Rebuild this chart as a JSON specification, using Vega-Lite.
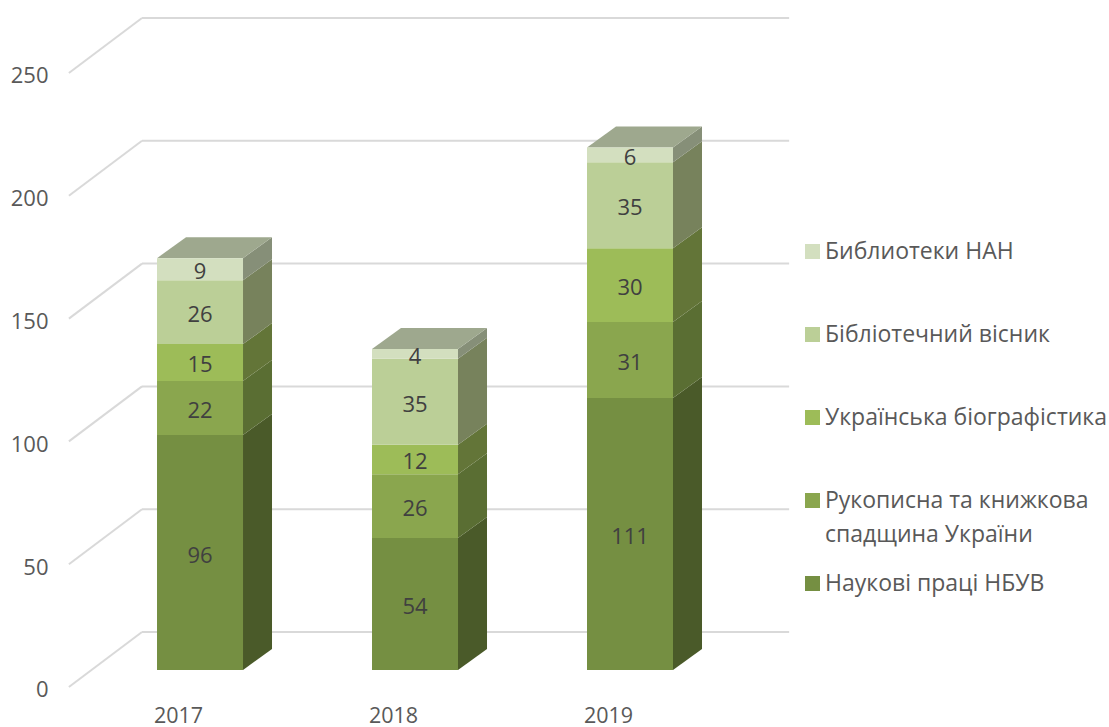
{
"$schema":"https://vega.github.io/schema/vega-lite/v6.json",
"width":1109,"height":727,"padding":0,"autosize":"none","background":"white",
"config":{"view":{"stroke":null},"font":"Open Sans",
"axisX":{"format":"d","grid":false,"domain":false,"ticks":false,"orient":"bottom","offset":-2,"labelPadding":-20,"labelOffset":-7,"labelFontSize":21.5,"labelColor":"#595959","labelFont":"Open Sans"},
"axisY":{"grid":false,"domain":false,"ticks":false,"orient":"left","offset":-58,"labelPadding":10,"labelOffset":3,"labelFontSize":22,"labelColor":"#595959","labelFont":"Open Sans"}},
"datasets":{
"segments":[
{"year":2017,"series":"Наукові праці НБУВ","order":1,"value":96},
{"year":2017,"series":"Рукописна та книжкова спадщина України","order":2,"value":22},
{"year":2017,"series":"Українська біографістика","order":3,"value":15},
{"year":2017,"series":"Бібліотечний вісник","order":4,"value":26},
{"year":2017,"series":"Библиотеки НАН","order":5,"value":9},
{"year":2018,"series":"Наукові праці НБУВ","order":1,"value":54},
{"year":2018,"series":"Рукописна та книжкова спадщина України","order":2,"value":26},
{"year":2018,"series":"Українська біографістика","order":3,"value":12},
{"year":2018,"series":"Бібліотечний вісник","order":4,"value":35},
{"year":2018,"series":"Библиотеки НАН","order":5,"value":4},
{"year":2019,"series":"Наукові праці НБУВ","order":1,"value":111},
{"year":2019,"series":"Рукописна та книжкова спадщина України","order":2,"value":31},
{"year":2019,"series":"Українська біографістика","order":3,"value":30},
{"year":2019,"series":"Бібліотечний вісник","order":4,"value":35},
{"year":2019,"series":"Библиотеки НАН","order":5,"value":6}
],
"ticks":[{"tick":0},{"tick":50},{"tick":100},{"tick":150},{"tick":200},{"tick":250}]
},
"resolve":{"scale":{"color":"independent"}},
"layer":[
{"data":{"name":"ticks"},
 "transform":[{"calculate":"datum.tick+22.4","as":"back"}],
 "mark":{"type":"rule","color":"#D9D9D9","strokeWidth":2},
 "encoding":{
  "x":{"datum":2016.46,"type":"quantitative","title":null,"scale":{"domain":[2016.1395,2021.2977],"nice":false,"zero":false},
   "axis":{"values":[2017,2018,2019]}},
  "x2":{"datum":2016.8},
  "y":{"field":"tick","type":"quantitative","title":null,"scale":{"domain":[-16.29,279.72],"nice":false,"zero":false},
   "axis":{"values":[0,50,100,150,200,250]}},
  "y2":{"field":"back"}
 }},
{"data":{"name":"ticks"},
 "transform":[{"calculate":"datum.tick+22.4","as":"back"}],
 "mark":{"type":"rule","color":"#D9D9D9","strokeWidth":2},
 "encoding":{
  "x":{"datum":2016.8,"type":"quantitative","title":null},
  "x2":{"datum":2019.81},
  "y":{"field":"back","type":"quantitative","title":null}
 }},
{"data":{"name":"segments"},
 "transform":[
  {"stack":"value","groupby":["year"],"sort":[{"field":"order","order":"ascending"}],"as":["v0","v1"]},
  {"calculate":"[0,1]","as":"d"},{"flatten":["d"]},
  {"calculate":"datum.year+0.2698+datum.d*0.1349","as":"sx"},
  {"calculate":"datum.v0+6.92+(datum.order>1?-0.3:0)+datum.d*8.55","as":"sy0"},
  {"calculate":"datum.v1+6.62+datum.d*8.55","as":"sy1"}
 ],
 "mark":{"type":"area","stroke":null,"interpolate":"linear"},
 "encoding":{
  "x":{"field":"sx","type":"quantitative","title":null},
  "y":{"field":"sy0","type":"quantitative","title":null,"stack":null},
  "y2":{"field":"sy1"},
  "detail":{"field":"year"},
  "color":{"field":"series","type":"nominal","legend":null,
   "scale":{"domain":["Библиотеки НАН","Бібліотечний вісник","Українська біографістика","Рукописна та книжкова спадщина України","Наукові праці НБУВ"],
    "range":["#868F78","#77825C","#637538","#5A6E33","#4A5A29"]}}
 }},
{"data":{"name":"segments"},
 "transform":[
  {"stack":"value","groupby":["year"],"sort":[{"field":"order","order":"ascending"}],"as":["v0","v1"]},
  {"filter":"datum.order==5"},
  {"calculate":"[0,1]","as":"d"},{"flatten":["d"]},
  {"calculate":"datum.year-0.1302+datum.d*0.1349","as":"tx0"},
  {"calculate":"datum.year+0.2698+datum.d*0.1349","as":"tx1"},
  {"calculate":"datum.v1+6.62+datum.d*8.55","as":"ty"}
 ],
 "mark":{"type":"area","orient":"horizontal","color":"#9EA88E","interpolate":"linear"},
 "encoding":{
  "y":{"field":"ty","type":"quantitative","title":null,"stack":null},
  "x":{"field":"tx0","type":"quantitative","title":null},
  "x2":{"field":"tx1"},
  "detail":{"field":"year"}
 }},
{"data":{"name":"segments"},
 "transform":[
  {"stack":"value","groupby":["year"],"sort":[{"field":"order","order":"ascending"}],"as":["v0","v1"]},
  {"calculate":"datum.year-0.1302","as":"fx0"},
  {"calculate":"datum.year+0.2698","as":"fx1"},
  {"calculate":"datum.v0+6.92+(datum.order>1?-0.3:0)","as":"fy0"},
  {"calculate":"datum.v1+6.62","as":"fy1"}
 ],
 "mark":{"type":"rect"},
 "encoding":{
  "x":{"field":"fx0","type":"quantitative","title":null},
  "x2":{"field":"fx1"},
  "y":{"field":"fy0","type":"quantitative","title":null},
  "y2":{"field":"fy1"},
  "color":{"field":"series","type":"nominal",
   "scale":{"domain":["Библиотеки НАН","Бібліотечний вісник","Українська біографістика","Рукописна та книжкова спадщина України","Наукові праці НБУВ"],
    "range":["#D3DFBF","#BBCF97","#9DBC58","#8AA64E","#758F42"]},
   "legend":{"title":null,"orient":"none","legendX":801,"legendY":240,"symbolType":"square","symbolSize":225,"symbolStrokeWidth":0,"labelFontSize":23,"labelColor":"#595959","labelFont":"Open Sans","labelOffset":1,"rowPadding":25,"labelLimit":320,"gridAlign":"all",
    "encoding":{"labels":{"lineHeight":{"value":34}}},
    "labelExpr":"datum.label=='Рукописна та книжкова спадщина України'?['Рукописна та книжкова','спадщина України']:datum.label"}}
 }},
{"data":{"name":"segments"},
 "transform":[
  {"stack":"value","groupby":["year"],"sort":[{"field":"order","order":"ascending"}],"as":["v0","v1"]},
  {"calculate":"datum.year+0.0698","as":"lx"},
  {"calculate":"(datum.v0+datum.v1)/2+5.5","as":"ly"}
 ],
 "mark":{"type":"text","fontSize":22,"color":"#404040","font":"Open Sans","baseline":"middle"},
 "encoding":{
  "x":{"field":"lx","type":"quantitative","title":null},
  "y":{"field":"ly","type":"quantitative","title":null},
  "text":{"field":"value","type":"quantitative"}
 }}
]
}
